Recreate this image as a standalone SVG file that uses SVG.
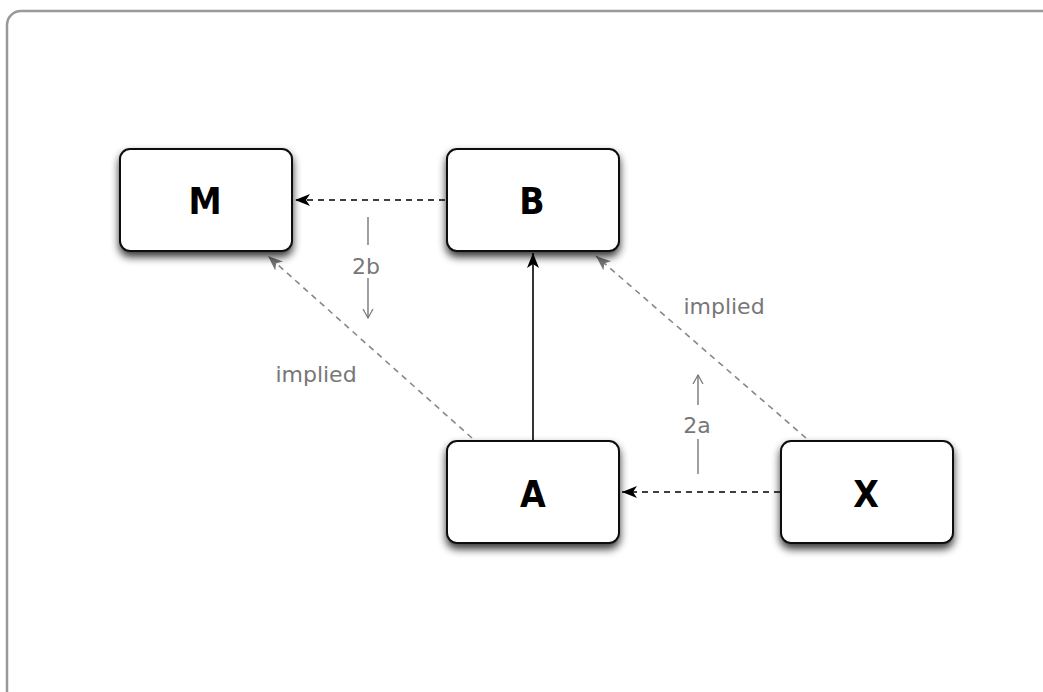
<svg xmlns="http://www.w3.org/2000/svg" width="1043" height="692" viewBox="0 0 1043 692">
<defs>
<filter id="sh" x="-20%" y="-20%" width="140%" height="150%">
<feGaussianBlur in="SourceAlpha" stdDeviation="4"/>
<feOffset dx="0" dy="5" result="b"/>
<feComponentTransfer><feFuncA type="linear" slope="0.8"/></feComponentTransfer>
<feMerge><feMergeNode/><feMergeNode in="SourceGraphic"/></feMerge>
</filter>
<marker id="ab" viewBox="0 0 15 12" refX="15" refY="6" markerWidth="15" markerHeight="12" markerUnits="userSpaceOnUse" orient="auto">
<path d="M0,0 L15,6 L0,12 L4,6 Z" fill="#000"/>
</marker>
<marker id="ag" viewBox="0 0 15 12" refX="15" refY="6" markerWidth="15" markerHeight="12" markerUnits="userSpaceOnUse" orient="auto">
<path d="M0,0 L15,6 L0,12 L4,6 Z" fill="#777"/>
</marker>
<marker id="ao" viewBox="0 0 10 12" refX="9" refY="6" markerWidth="10" markerHeight="12" markerUnits="userSpaceOnUse" orient="auto">
<path d="M0,1 L9,6 L0,11" fill="none" stroke="#777" stroke-width="1.2"/>
</marker>
</defs>
<style>
.box{fill:#fff;stroke:#111;stroke-width:2}
.lbl{font-family:"DejaVu Sans Condensed","DejaVu Sans",sans-serif;font-weight:bold;font-size:37px;fill:#000;text-anchor:middle}
.note{font-family:"DejaVu Sans","Liberation Sans",sans-serif;font-size:22px;fill:#777;text-anchor:middle}
.dash{fill:none;stroke:#000;stroke-width:1.6;stroke-dasharray:6,5}
.solid{fill:none;stroke:#000;stroke-width:1.6}
.gdash{fill:none;stroke:#888;stroke-width:1.6;stroke-dasharray:6,5}
.ann{fill:none;stroke:#777;stroke-width:1.4}
</style>
<rect x="7" y="11" width="1060" height="700" rx="14" ry="14" fill="#fff" stroke="#999" stroke-width="2.5"/>
<g id="connectors">
<line class="dash" x1="445" y1="200" x2="295" y2="200" marker-end="url(#ab)"/>
<line class="solid" x1="533" y1="440" x2="533" y2="253" marker-end="url(#ab)"/>
<line class="dash" x1="780" y1="492" x2="622" y2="492" marker-end="url(#ab)"/>
<line class="gdash" x1="472" y1="438" x2="268" y2="256" marker-end="url(#ag)"/>
<line class="gdash" x1="806" y1="438" x2="596" y2="256" marker-end="url(#ag)"/>
</g>
<g id="annotations">
<line class="ann" x1="368" y1="217" x2="368" y2="245"/>
<text class="note" x="366" y="274">2b</text>
<line class="ann" x1="368" y1="278" x2="368" y2="318" marker-end="url(#ao)"/>
<line class="ann" x1="698" y1="405" x2="698" y2="375" marker-end="url(#ao)"/>
<text class="note" x="697" y="433">2a</text>
<line class="ann" x1="698" y1="439" x2="698" y2="474"/>
<text class="note" x="316" y="382">implied</text>
<text class="note" x="724" y="314">implied</text>
</g>
<g id="node-M">
<rect class="box" x="120" y="149" width="172" height="102" rx="10" filter="url(#sh)"/>
<text class="lbl" x="205" y="214">M</text>
</g>
<g id="node-B">
<rect class="box" x="447" y="149" width="172" height="102" rx="10" filter="url(#sh)"/>
<text class="lbl" x="532" y="214">B</text>
</g>
<g id="node-A">
<rect class="box" x="447" y="441" width="172" height="102" rx="10" filter="url(#sh)"/>
<text class="lbl" x="533" y="507">A</text>
</g>
<g id="node-X">
<rect class="box" x="781" y="441" width="172" height="102" rx="10" filter="url(#sh)"/>
<text class="lbl" x="866" y="507">X</text>
</g>
</svg>
